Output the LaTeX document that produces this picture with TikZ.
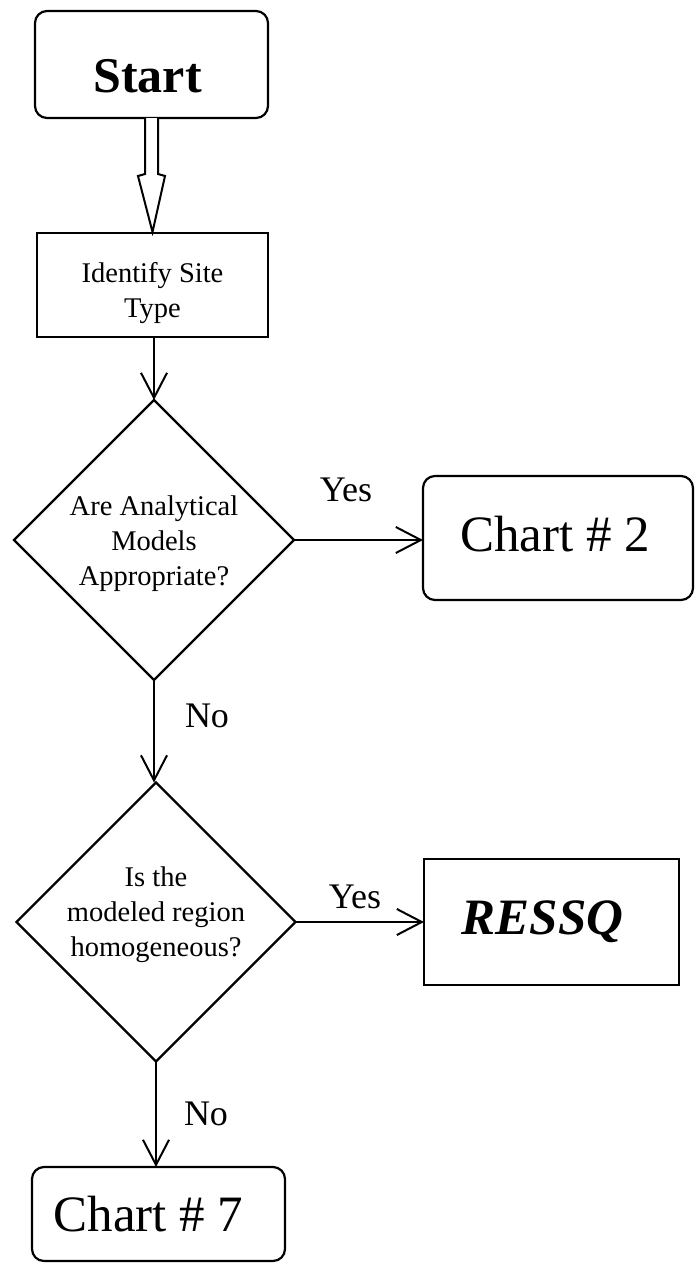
\documentclass[tikz,border=0pt]{standalone}
\usepackage{fontspec}
\setmainfont{Liberation Serif}
\usetikzlibrary{shapes.geometric,arrows.meta,calc}

\begin{document}
\begin{tikzpicture}[x=1pt,y=-1pt,
  line width=2pt,
  shape line/.style={draw, line width=2.2pt, inner sep=0pt, outer sep=0pt},
  plainbox/.style={shape line, rectangle},
  roundbox/.style={shape line, rectangle, rounded corners=12pt},
  decision/.style={shape line, diamond, aspect=1},
  smalltext/.style={font=\fontsize{28.5}{35}\selectfont, align=center, inner sep=0pt},
  bigtext/.style={font=\fontsize{51}{60}\selectfont, inner sep=0pt},
  answer/.style={font=\fontsize{36}{42}\selectfont, inner sep=0pt},
  flow/.style={line width=2pt, -{Straight Barb[length=25pt,width=26pt,line width=2pt]}},
  hollow/.style={draw, line width=2pt, line join=miter, fill=white}
]
\useasboundingbox (0,0) rectangle (694,1266);

% boxes and decisions
\node[roundbox, minimum width=233pt, minimum height=107pt,
      label={[bigtext, font=\fontsize{50}{60}\selectfont\bfseries, xshift=-4pt, yshift=-12pt]center:Start}]
      (start) at (151.5,64.5) {};
\node[plainbox, minimum width=231pt, minimum height=104pt,
      label={[smalltext, yshift=-8pt]center:Identify Site\\Type}]
      (site) at (152.5,285) {};
\node[decision, minimum width=280pt, minimum height=280pt,
      label={[smalltext, yshift=-4pt]center:Are Analytical\\Models\\Appropriate?}]
      (d1) at (154,540) {};
\node[roundbox, minimum width=270pt, minimum height=124pt,
      label={[bigtext, xshift=-3pt, yshift=4pt]center:Chart \# 2}]
      (chart2) at (558,538) {};
\node[decision, minimum width=279pt, minimum height=279pt,
      label={[smalltext, yshift=7pt]center:Is the\\modeled region\\homogeneous?}]
      (d2) at (156,922) {};
\node[plainbox, minimum width=255pt, minimum height=126pt,
      label={[bigtext, font=\fontsize{51}{60}\selectfont\bfseries\itshape, xshift=-9pt]center:RESSQ}]
      (ressq) at (551.5,922) {};
\node[roundbox, minimum width=253pt, minimum height=94pt,
      label={[bigtext, xshift=-10pt]center:Chart \# 7}]
      (chart7) at (158.5,1214) {};

% hollow block arrow below Start
\draw[hollow]
  ($(start.south)+(-6.5,0)$) -- ($(start.south)+(-6.5,56)$) --
  ($(start.south)+(-13.5,58)$) -- ($(site.north)+(0,-1)$) --
  ($(start.south)+(13.5,58)$) -- ($(start.south)+(6.5,56)$) --
  ($(start.south)+(6.5,0)$);

% connectors
\draw[flow] (d1.north |- site.south) -- (d1.north);
\draw[flow] (d1.east) -- (d1.east -| chart2.west);
\draw[flow] (d1.south) -- (d1.south |- d2.north);
\draw[flow] (d2.east) -- (d2.east -| ressq.west);
\draw[flow] (d2.south) -- (d2.south |- chart7.north);

% branch labels
\node[answer] (yes1) at (346,490) {Yes};
\node[answer] (no1) at (207,716) {No};
\node[answer] (yes2) at (355,897) {Yes};
\node[answer] (no2) at (206,1114) {No};
\end{tikzpicture}
\end{document}
